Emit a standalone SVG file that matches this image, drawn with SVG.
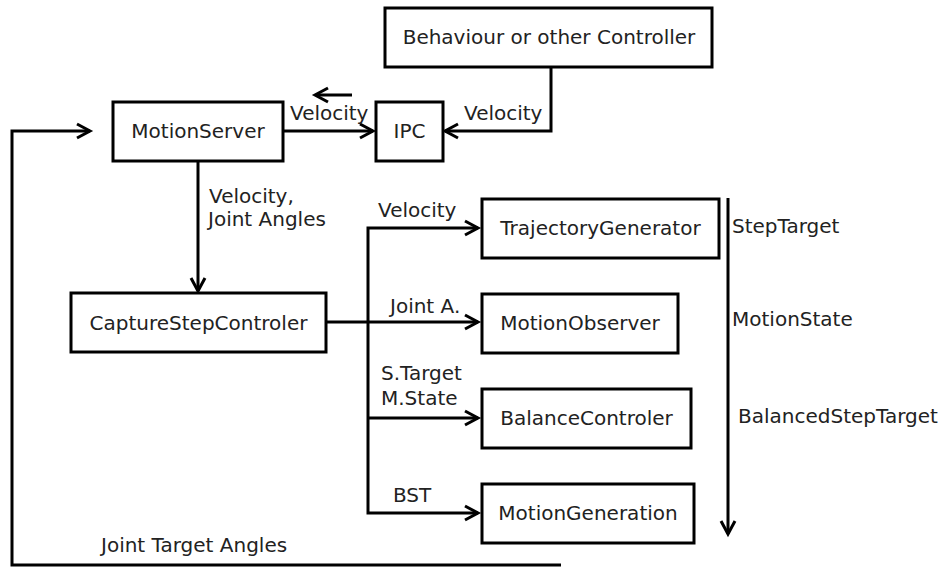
<svg xmlns="http://www.w3.org/2000/svg" width="945" height="567" viewBox="0 0 945 567">
<defs>
<style>
.box{fill:#fff;stroke:#000;stroke-width:3}
.ln{fill:none;stroke:#000;stroke-width:3}
.hd{fill:none;stroke:#000;stroke-width:3;stroke-linejoin:miter}
text{font-family:"DejaVu Sans","Liberation Sans",sans-serif;font-size:20px;fill:#222}
.c{text-anchor:middle}
</style>
</defs>
<rect width="945" height="567" fill="#fff"/>
<g id="connectors">
<path class="ln" d="M551,67 V131 H445"/>
<path class="hd" d="M458,124 L445,131 L458,138"/>
<path class="ln" d="M283,131 H373"/>
<path class="hd" d="M360,124 L373,131 L360,138"/>
<path class="ln" d="M352,95 H316"/>
<path class="hd" d="M328,88 L315,95 L328,102"/>
<path class="ln" d="M198,161 V291"/>
<path class="hd" d="M191,278 L198,291 L205,278"/>
<path class="ln" d="M327,322 H478"/>
<path class="hd" d="M465,315 L478,322 L465,329"/>
<path class="ln" d="M478,228 H368 V513 H478"/>
<path class="hd" d="M465,221 L478,228 L465,235"/>
<path class="ln" d="M368,418 H478"/>
<path class="hd" d="M465,411 L478,418 L465,425"/>
<path class="hd" d="M465,506 L478,513 L465,520"/>
<path class="ln" d="M728,198 V534"/>
<path class="hd" d="M721,521 L728,534 L735,521"/>
<path class="ln" d="M561,565 H12 V131 H90"/>
<path class="hd" d="M77,124 L90,131 L77,138"/>
<text x="290" y="120">Velocity</text>
<text x="464" y="120">Velocity</text>
<text x="209" y="203">Velocity,</text>
<text x="208" y="226">Joint Angles</text>
<text x="378" y="217">Velocity</text>
<text x="390" y="313">Joint A.</text>
<text x="381" y="380">S.Target</text>
<text x="381" y="405">M.State</text>
<text x="393" y="502">BST</text>
<text x="732" y="233">StepTarget</text>
<text x="732" y="326">MotionState</text>
<text x="738" y="423">BalancedStepTarget</text>
<text x="101" y="552">Joint Target Angles</text>
</g>
<g id="behaviour"><rect class="box" x="385" y="8" width="327" height="59"/><text class="c" x="549" y="44">Behaviour or other Controller</text></g>
<g id="motionserver"><rect class="box" x="113" y="102" width="170" height="59"/><text class="c" x="198" y="138">MotionServer</text></g>
<g id="ipc"><rect class="box" x="376" y="102" width="67" height="59"/><text class="c" x="409.5" y="138">IPC</text></g>
<g id="capturestep"><rect class="box" x="71" y="293" width="255" height="59"/><text class="c" x="198.5" y="330">CaptureStepControler</text></g>
<g id="trajectory"><rect class="box" x="482" y="199" width="237" height="59"/><text class="c" x="600.5" y="235">TrajectoryGenerator</text></g>
<g id="observer"><rect class="box" x="482" y="294" width="196" height="59"/><text class="c" x="580" y="330">MotionObserver</text></g>
<g id="balance"><rect class="box" x="482" y="389" width="209" height="59"/><text class="c" x="586.5" y="425">BalanceControler</text></g>
<g id="generation"><rect class="box" x="482" y="484" width="212" height="59"/><text class="c" x="588" y="520">MotionGeneration</text></g>
</svg>
